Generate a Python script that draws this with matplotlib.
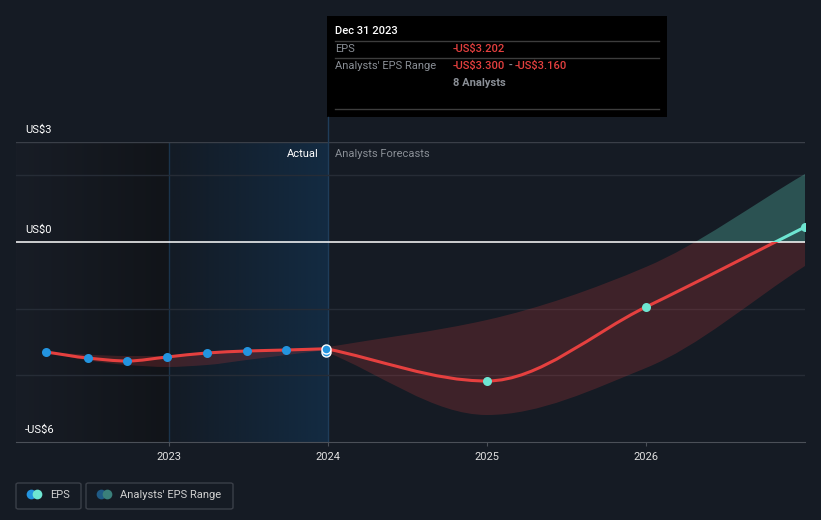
import matplotlib
matplotlib.use('Agg')
import matplotlib.pyplot as plt
import numpy as np
from matplotlib.path import Path
from matplotlib.patches import PathPatch, Rectangle, FancyBboxPatch

plt.rcParams['font.family'] = ['Roboto', 'DejaVu Sans']

# historical EPS (trailing, quarterly)
hist_x = [2022.23, 2022.49, 2022.74, 2022.99, 2023.24, 2023.49, 2023.74, 2023.99]
hist_eps = [-3.30, -3.48, -3.57, -3.45, -3.33, -3.27, -3.24, -3.202]
hist_hi = [-3.30, -3.38, -3.42, -3.42, -3.33, -3.27, -3.24, -3.20]
hist_lo = [-3.30, -3.55, -3.69, -3.75, -3.69, -3.54, -3.39, -3.24]

# analysts' forecasts
fc_x = [2023.99, 2025.0, 2026.0, 2027.0]
fc_eps = [-3.202, -4.17, -1.95, 0.45]
fc_hi = [-3.16, -2.34, -0.75, 2.04]
fc_lo = [-3.30, -5.19, -3.78, -0.72]

yticks = [3, 0, -6]
ytick_labels = ['US$3', 'US$0', '-US$6']
xticks = [2023, 2024, 2025, 2026]

BG = '#151b24'
RED = '#e5403f'
TEAL = '#6ee6d2'
BLUE = '#2394df'
GREY = '#8a8f96'
W, H = 821, 520


def fx(px):
    return px / W


def fy(py):
    return 1 - py / H


def bezier(x, y):
    # monotone cubic (Fritsch-Carlson) as bezier control points
    x = np.asarray(x, float)
    y = np.asarray(y, float)
    h = np.diff(x)
    d = np.diff(y) / h
    n = len(x)
    m = np.zeros(n)
    m[0], m[-1] = d[0], d[-1]
    for i in range(1, n - 1):
        if d[i - 1] * d[i] <= 0:
            m[i] = 0
        else:
            m[i] = 3 * (h[i - 1] + h[i]) / ((2 * h[i] + h[i - 1]) / d[i - 1] + (h[i] + 2 * h[i - 1]) / d[i])
    verts = [(x[0], y[0])]
    for i in range(n - 1):
        verts.append((x[i] + h[i] / 3, y[i] + m[i] * h[i] / 3))
        verts.append((x[i + 1] - h[i] / 3, y[i + 1] - m[i + 1] * h[i] / 3))
        verts.append((x[i + 1], y[i + 1]))
    return verts


def line_path(x, y):
    v = bezier(x, y)
    return Path(v, [Path.MOVETO] + [Path.CURVE4] * (len(v) - 1))


def band_path(x, hi, lo):
    up = bezier(x, hi)
    dn = bezier(x, lo)[::-1]
    v = up + dn + [up[0]]
    c = [Path.MOVETO] + [Path.CURVE4] * (len(up) - 1) + [Path.LINETO] + [Path.CURVE4] * (len(dn) - 1) + [Path.CLOSEPOLY]
    return Path(v, c)


fig = plt.figure(figsize=(W / 100, H / 100), dpi=100, facecolor=BG)
ax = fig.add_axes([fx(16), fy(442), fx(805 - 16), 300 / H])
ax.set_facecolor(BG)
x0, x1 = 2022.04, 2027.0
ax.set_xlim(x0, x1)
ax.set_ylim(-6, 3)

# past shading
g1 = np.linspace(0, 1, 64).reshape(1, -1)
c_a = np.array([0x18, 0x1d, 0x26]) / 255
c_b = np.array([0x11, 0x14, 0x19]) / 255
img1 = c_a[None, None, :] * (1 - g1[..., None]) + c_b[None, None, :] * g1[..., None]
ax.imshow(img1, extent=[x0, 2023, -6, 3], aspect='auto', zorder=0)
c_c = np.array([0x13, 0x1b, 0x25]) / 255
c_d = np.array([0x13, 0x2b, 0x42]) / 255
img2 = c_c[None, None, :] * (1 - g1[..., None]) + c_d[None, None, :] * g1[..., None]
ax.imshow(img2, extent=[2023, 2024, -6, 3], aspect='auto', zorder=0)
ax.axvline(2023, color='#1b344c', lw=1, zorder=1)
ax.axvline(2024, color='#1f3d5a', lw=1, zorder=1)

for gy in [2, -2, -4]:
    ax.axhline(gy, color='#262c36', lw=1, zorder=1)
ax.axhline(3, color='#3a3f48', lw=1, zorder=1)
ax.axhline(0, color='white', lw=1.1, zorder=4)

neg_clip = Rectangle((x0, -6), x1 - x0, 6, transform=ax.transData)
pos_clip = Rectangle((x0, 0), x1 - x0, 3, transform=ax.transData)

# bands
p = PathPatch(band_path(hist_x, hist_hi, hist_lo), facecolor=RED, alpha=0.2, lw=0, zorder=2)
ax.add_patch(p)
p = PathPatch(band_path(fc_x, fc_hi, fc_lo), facecolor=RED, alpha=0.2, lw=0, zorder=2)
ax.add_patch(p)
p.set_clip_path(neg_clip)
p = PathPatch(band_path(fc_x, fc_hi, fc_lo), facecolor='#59c3b0', alpha=0.33, lw=0, zorder=2)
ax.add_patch(p)
p.set_clip_path(pos_clip)

# lines
ax.add_patch(PathPatch(line_path(hist_x, hist_eps), fill=False, edgecolor=RED, lw=2.2, zorder=5))
p = PathPatch(line_path(fc_x, fc_eps), fill=False, edgecolor=RED, lw=2.2, zorder=5)
ax.add_patch(p)
p.set_clip_path(neg_clip)
p = PathPatch(line_path(fc_x, fc_eps), fill=False, edgecolor=TEAL, lw=2.2, zorder=5)
ax.add_patch(p)
p.set_clip_path(pos_clip)

ax.plot(hist_x[:-1], hist_eps[:-1], 'o', color=BLUE, ms=6.5, mew=0, zorder=6)
ax.plot(fc_x[1:], fc_eps[1:], 'o', color=TEAL, ms=6.5, mew=0, zorder=6)
ax.plot([2023.99, 2023.99], [fc_lo[0], hist_eps[-1]], 'o', color=BLUE, ms=6.5,
        mec='white', mew=1, zorder=7)

for s in ['top', 'left', 'right']:
    ax.spines[s].set_visible(False)
ax.spines['bottom'].set_color('#4b5058')
ax.set_yticks([])
ax.set_xticks(xticks)
ax.set_xticklabels([str(t) for t in xticks])
ax.tick_params(axis='x', colors='#4b5058', labelcolor='#e0e0e0', labelsize=8, length=3, pad=4)

for v, lab in zip(yticks, ytick_labels):
    py = 442 - (v + 6) * 300 / 9 - 12
    fig.text(fx(25), fy(py), lab, color='white', fontsize=8, va='center')

fig.text(fx(319), fy(154), 'Actual', color='white', fontsize=8, ha='right', va='center')
fig.text(fx(335), fy(154), 'Analysts Forecasts', color=GREY, fontsize=8, ha='left', va='center')

# tooltip
fig.add_artist(plt.Line2D([fx(328), fx(328)], [fy(142), fy(117)], color='#1f3d5a', lw=1))
fig.add_artist(Rectangle((fx(327), fy(117)), fx(667 - 327), (117 - 16) / H, facecolor='black', edgecolor='none'))
fig.text(fx(335), fy(31), 'Dec 31 2023', color='white', fontsize=8, va='center', fontweight='medium')
for ly in [41, 58, 109]:
    fig.add_artist(plt.Line2D([fx(335), fx(659)], [fy(ly), fy(ly)], color='#3d3d3d', lw=1))
fig.text(fx(335), fy(49), 'EPS', color=GREY, fontsize=8, va='center')
fig.text(fx(453), fy(49), '-US$3.202', color=RED, fontsize=8, va='center', fontweight='medium')
fig.text(fx(335), fy(66), "Analysts' EPS Range", color=GREY, fontsize=8, va='center')

# range text pieces placed one after another
renderer = fig.canvas.get_renderer()
cur = 453
for piece, col, gap in [('-US$3.300', RED, 3), ('-', GREY, 3), ('-US$3.160', RED, 0)]:
    t = fig.text(fx(cur), fy(66), piece, color=col, fontsize=8, va='center', fontweight='medium')
    cur += t.get_window_extent(renderer).width + gap
fig.text(fx(453), fy(83), '8 Analysts', color=GREY, fontsize=8, va='center', fontweight='bold')

# legend
for bx, bw in [(16, 65), (86, 147)]:
    fig.add_artist(FancyBboxPatch((fx(bx), fy(509)), fx(bw), 26 / H,
                                  boxstyle='round,pad=0,rounding_size=0.003',
                                  facecolor='none', edgecolor='#3a3f48', lw=1))
lax = fig.add_axes([0, 0, 1, 1], facecolor='none')
lax.set_xlim(0, W)
lax.set_ylim(H, 0)
lax.axis('off')
lax.plot([31], [494], 'o', color=BLUE, ms=7, mew=0)
lax.plot([37], [494], 'o', color=TEAL, ms=7, mew=0)
lax.plot([101], [494], 'o', color='#1f5a85', ms=7, mew=0)
lax.plot([107], [494], 'o', color='#3a7f7a', ms=7, mew=0)
fig.text(fx(50), fy(495), 'EPS', color='#d0d0d0', fontsize=8, va='center')
fig.text(fx(120), fy(495), "Analysts' EPS Range", color='#d0d0d0', fontsize=8, va='center')

fig.savefig('out.png', dpi=100, facecolor=BG)
